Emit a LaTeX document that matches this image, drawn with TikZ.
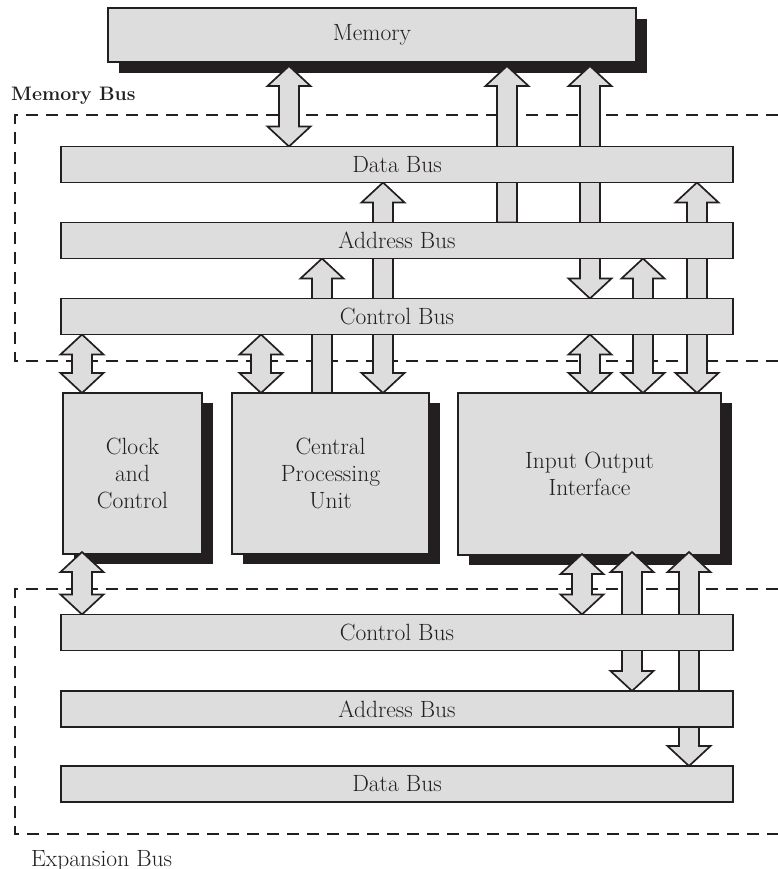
\documentclass[tikz,border=0pt]{standalone}
\usepackage{fontspec}
\usetikzlibrary{shadows,calc}
\definecolor{boxfill}{RGB}{221,221,221}
\definecolor{ink}{RGB}{35,31,32}
\begin{document}
\begin{tikzpicture}[x=1pt,y=-1pt,line join=miter,
  lbl/.style={font=\fontsize{23.5}{27}\selectfont, text=ink},
  busbar/.style={draw=ink, line width=1.7pt, fill=boxfill, minimum width=672pt,
    minimum height=36pt, inner sep=0pt, outer sep=0pt, lbl},
  unit/.style={draw=ink, line width=1.7pt, fill=boxfill, inner sep=0pt, outer sep=0pt,
    align=center, lbl},
  shadowed/.style={general shadow={fill=ink, shadow xshift=11pt, shadow yshift=#1}},
  busframe/.style={draw=ink, line width=1.8pt, dash pattern=on 12pt off 8pt},
  % vertical block arrow with a head at each end (start = upper tip)
  twoway/.style={draw=ink, line width=1.7pt, fill=boxfill,
    to path={let \p1=(\tikztostart), \p2=(\tikztotarget) in
      (\x1,\y1) -- (\x1+21.5pt,\y1-20pt) -- (\x1+10pt,\y1-20pt) -- (\x1+10pt,\y2+20pt)
      -- (\x1+21.5pt,\y2+20pt) -- (\x1,\y2) -- (\x1-21.5pt,\y2+20pt) -- (\x1-10pt,\y2+20pt)
      -- (\x1-10pt,\y1-20pt) -- (\x1-21.5pt,\y1-20pt) -- cycle}},
  % vertical block arrow pointing up (start = tip, target = tail)
  upway/.style={draw=ink, line width=1.7pt, fill=boxfill,
    to path={let \p1=(\tikztostart), \p2=(\tikztotarget) in
      (\x1,\y1) -- (\x1+21.5pt,\y1-20pt) -- (\x1+10pt,\y1-20pt) -- (\x1+10pt,\y2)
      -- (\x1-10pt,\y2) -- (\x1-10pt,\y1-20pt) -- (\x1-21.5pt,\y1-20pt) -- cycle}},
]
\useasboundingbox (0,0) rectangle (778,869);

% bus enclosures
\draw[busframe] (778,115) -- (15,115) -- (15,361) -- (778,361);
\draw[busframe] (778,589) -- (15,589) -- (15,834) -- (778,834);
\node[anchor=base west, inner sep=0pt, text=ink, font=\fontsize{19.5}{22}\selectfont\bfseries] (mbuslabel) at (11,101) {Memory Bus};
\node[anchor=base west, inner sep=0pt, lbl] (xbuslabel) at (31,866) {Expansion Bus};

% functional units
\node[unit, shadowed=-11pt, minimum width=528pt, minimum height=54pt] (mem) at (372,35) {Memory};
\node[unit, shadowed=-10pt, minimum width=139pt, minimum height=161pt] (clk) at (132.5,473.5) {Clock\\and\\Control};
\node[unit, shadowed=-10pt, minimum width=197pt, minimum height=161pt] (cpu) at (330.5,473.5) {Central\\Processing\\Unit};
\node[unit, shadowed=-10pt, minimum width=263pt, minimum height=162pt] (io) at (589.5,474) {Input Output\\Interface};

% arrow columns
\coordinate (cMD) at (289,0);
\coordinate (cAM) at (507,0);
\coordinate (cMC) at (590,0);
\coordinate (cPA) at (322,0);
\coordinate (cPD) at (383,0);
\coordinate (cKC) at (82,0);
\coordinate (cPC) at (261,0);
\coordinate (cID) at (697,0);
\coordinate (cIA) at (643,0);
\coordinate (cXC) at (582,0);
\coordinate (cXA) at (632,0);
\coordinate (cXD) at (689,0);

% bus bar outlines as anchors (painted later, above the arrows)
\path (397,164.5) coordinate (dbusc) (397,240.5) coordinate (abusc) (397,316.5) coordinate (cbusc)
      (397,632.5) coordinate (xcbusc) (397,709) coordinate (xabusc) (397,784) coordinate (xdbusc);
\path (dbusc) node[busbar, draw=none, fill=none] (dbus) {}
      (abusc) node[busbar, draw=none, fill=none] (abus) {}
      (cbusc) node[busbar, draw=none, fill=none] (cbus) {}
      (xcbusc) node[busbar, draw=none, fill=none] (xcbus) {}
      (xabusc) node[busbar, draw=none, fill=none] (xabus) {}
      (xdbusc) node[busbar, draw=none, fill=none] (xdbus) {};

% memory bus transfers
\draw[twoway] ([yshift=-4pt]cMD |- mem.south) to (cMD |- dbus.north);
\draw[upway]  ([yshift=-4pt]cAM |- mem.south) to (cAM |- abus.north);
\draw[twoway] ([yshift=-4pt]cMC |- mem.south) to (cMC |- cbus.north);
\draw[upway]  (cPA |- abus.south) to (cPA |- cpu.north);
\draw[twoway] (cPD |- dbus.south) to (cPD |- cpu.north);
\draw[twoway] (cKC |- cbus.south) to (cKC |- clk.north);
\draw[twoway] (cPC |- cbus.south) to (cPC |- cpu.north);
\draw[twoway] (cID |- dbus.south) to (cID |- io.north);
\draw[twoway] (cIA |- abus.south) to (cIA |- io.north);
\draw[twoway] (cMC |- cbus.south) to (cMC |- io.north);

% expansion bus transfers
\draw[twoway] ([yshift=2pt]cKC |- clk.south) to (cKC |- xcbus.north);
\draw[twoway] ([yshift=1pt]cXC |- io.south) to (cXC |- xcbus.north);
\draw[twoway] ([yshift=3pt]cXA |- io.south) to (cXA |- xabus.north);
\draw[twoway] ([yshift=3pt]cXD |- io.south) to (cXD |- xdbus.north);

% bus bars on top of the passing arrows
\node[busbar] at (dbusc) {Data Bus};
\node[busbar] at (abusc) {Address Bus};
\node[busbar] at (cbusc) {Control Bus};
\node[busbar] at (xcbusc) {Control Bus};
\node[busbar] at (xabusc) {Address Bus};
\node[busbar] at (xdbusc) {Data Bus};
\end{tikzpicture}
\end{document}
